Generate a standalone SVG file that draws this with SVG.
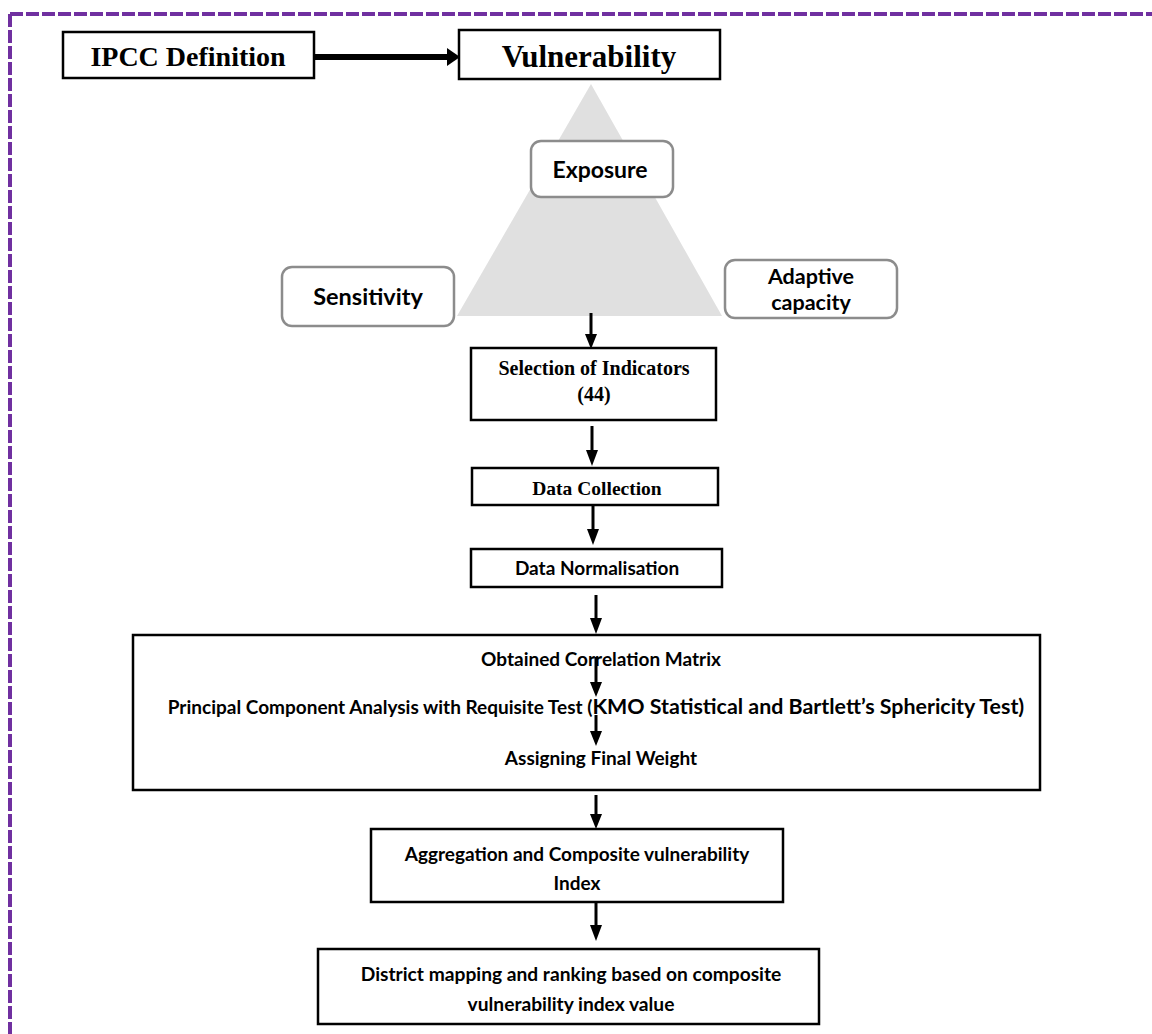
<svg xmlns="http://www.w3.org/2000/svg" width="1152" height="1034" viewBox="0 0 1152 1034">
<style>
.box{fill:#fff;stroke:#000;stroke-width:2.5}
.rbox{fill:#fff;stroke:#8c8c8c;stroke-width:2.5}
.serif{font-family:"Liberation Serif","Times New Roman",serif;font-weight:bold;fill:#000;text-anchor:middle}
.sans{font-family:Lato,"Open Sans","Liberation Sans",sans-serif;font-weight:bold;fill:#000;text-anchor:middle}
.conn{stroke:#000;stroke-width:3;fill:none}
</style>
<rect width="1152" height="1034" fill="#fff"/>
<g id="frame">
<path d="M10,14 H1152 M10,14 V1034" fill="none" stroke="#7030a0" stroke-width="4" stroke-dasharray="13 3"/>
</g>
<g id="triangle"><polygon points="591,84 457,316 722,316" fill="#e0e0e0"/></g>
<g id="ipcc"><rect class="box" x="63" y="32" width="251" height="46"/><text class="serif" x="188" y="66" font-size="28">IPCC Definition</text></g>
<g id="vulnerability"><rect class="box" x="459" y="30" width="261" height="49"/><text class="serif" x="589" y="67" font-size="31">Vulnerability</text></g>
<g id="exposure"><rect class="rbox" x="531" y="141" width="142" height="56" rx="10"/><text class="sans" x="600" y="178" font-size="23">Exposure</text></g>
<g id="sensitivity"><rect class="rbox" x="282" y="267" width="172" height="59" rx="10"/><text class="sans" x="368" y="305" font-size="23.5">Sensitivity</text></g>
<g id="adaptive"><rect class="rbox" x="725" y="260" width="172" height="58" rx="10"/><text class="sans" x="811" y="284" font-size="21.5">Adaptive</text><text class="sans" x="811" y="310" font-size="21.5">capacity</text></g>
<g id="selection"><rect class="box" x="471" y="348" width="245" height="72"/><text class="serif" x="594" y="375" font-size="20">Selection of Indicators</text><text class="serif" x="594" y="401" font-size="20">(44)</text></g>
<g id="collection"><rect class="box" x="472" y="468" width="246" height="37"/><text class="serif" x="597" y="495" font-size="19.5">Data Collection</text></g>
<g id="normalisation"><rect class="box" x="471" y="549" width="251" height="38"/><text class="sans" x="597" y="575" font-size="19">Data Normalisation</text></g>
<g id="pca"><rect class="box" x="133" y="635" width="907" height="155"/>
<text class="sans" x="601" y="666" font-size="19">Obtained Correlation Matrix</text>
<text class="sans" x="596" y="714" font-size="19"><tspan>Principal Component Analysis with Requisite Test (</tspan><tspan font-size="21.4">KMO Statistical and Bartlett’s Sphericity Test)</tspan></text>
<text class="sans" x="601" y="765" font-size="19">Assigning Final Weight</text>
</g>
<g id="aggregation"><rect class="box" x="371" y="829" width="412" height="73"/><text class="sans" x="577" y="861" font-size="19">Aggregation and Composite vulnerability</text><text class="sans" x="577" y="890" font-size="19">Index</text></g>
<g id="district"><rect class="box" x="318" y="949" width="501" height="75"/><text class="sans" x="571" y="981" font-size="19.2">District mapping and ranking based on composite</text><text class="sans" x="571" y="1011" font-size="19.2">vulnerability index value</text></g>
<g id="connectors">
<line x1="314" y1="57" x2="450" y2="57" stroke="#000" stroke-width="6"/>
<polygon points="447,48 460,57 447,66" fill="#000"/>
<g fill="#000">
<line class="conn" x1="591" y1="313" x2="591" y2="336"/><polygon points="585,334 597,334 591,349"/>
<line class="conn" x1="592" y1="426" x2="592" y2="452"/><polygon points="586,450 598,450 592,466"/>
<line class="conn" x1="593" y1="506" x2="593" y2="531"/><polygon points="587,529 599,529 593,545"/>
<line class="conn" x1="596" y1="595" x2="596" y2="620"/><polygon points="590,618 602,618 596,634"/>
<line class="conn" x1="596" y1="657" x2="596" y2="684"/><polygon points="590,682 602,682 596,697"/>
<line class="conn" x1="596" y1="715" x2="596" y2="733"/><polygon points="590,731 602,731 596,746"/>
<line class="conn" x1="596" y1="795" x2="596" y2="816"/><polygon points="590,814 602,814 596,829"/>
<line class="conn" x1="596" y1="903" x2="596" y2="927"/><polygon points="590,925 602,925 596,941"/>
</g>
</g>
</svg>
